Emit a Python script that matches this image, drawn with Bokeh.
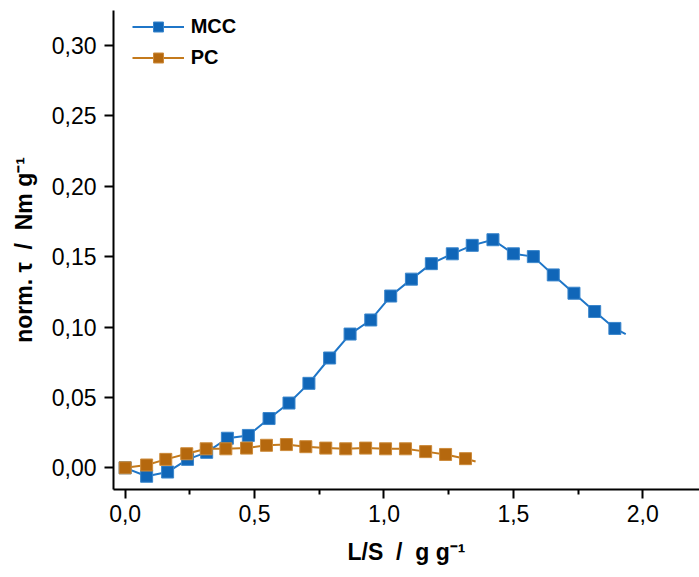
from bokeh.plotting import figure
from bokeh.models import Range1d, FixedTicker, Legend, LegendItem
from bokeh.embed import file_html
from bokeh.resources import INLINE

# Liquid-to-solid ratio (g/g) and normalised torque (Nm/g)
mcc_ls = [0.0, 0.083, 0.164, 0.241, 0.315, 0.395, 0.476, 0.556, 0.633, 0.710,
          0.790, 0.869, 0.949, 1.026, 1.106, 1.183, 1.264, 1.341, 1.421, 1.500,
          1.577, 1.654, 1.734, 1.814, 1.892]
mcc_tau = [0.000, -0.006, -0.003, 0.006, 0.011, 0.021, 0.023, 0.035, 0.046, 0.060,
           0.078, 0.095, 0.105, 0.122, 0.134, 0.145, 0.152, 0.158, 0.162, 0.152,
           0.150, 0.137, 0.124, 0.111, 0.099]
mcc_curve_end = (1.934, 0.095)

pc_ls = [0.0, 0.083, 0.157, 0.238, 0.313, 0.389, 0.469, 0.546, 0.623, 0.698,
         0.775, 0.852, 0.929, 1.006, 1.083, 1.161, 1.238, 1.315]
pc_tau = [0.000, 0.002, 0.006, 0.010, 0.0135, 0.0135, 0.014, 0.016, 0.0165, 0.015,
          0.014, 0.0135, 0.014, 0.0135, 0.0135, 0.0115, 0.0095, 0.0065]
pc_curve_end = (1.354, 0.0045)

x_ticks = [0.0, 0.5, 1.0, 1.5, 2.0]
x_minor = [0.25, 0.75, 1.25, 1.75, 2.25]
y_ticks = [0.00, 0.05, 0.10, 0.15, 0.20, 0.25, 0.30]

MCC_COLOR = "#1066b8"
MCC_LINE = "#1f76c8"
PC_COLOR = "#b5680e"
PC_LINE = "#c47a1c"

NB = "\u00a0"  # keeps the wide gaps around the slash in the axis titles

p = figure(width=699, height=577, output_backend="svg", toolbar_location=None,
           x_range=Range1d(-0.045, 2.219), y_range=Range1d(-0.0154, 0.3248),
           min_border_left=113, min_border_right=0, min_border_top=10,
           min_border_bottom=88)
p.outline_line_color = None
p.grid.visible = False
p.background_fill_color = "white"
p.border_fill_color = "white"

font = "Liberation Sans"

for ax in (p.xaxis[0], p.yaxis[0]):
    ax.axis_line_width = 2
    ax.axis_line_color = "black"
    ax.major_tick_line_width = 2
    ax.minor_tick_line_width = 2
    ax.major_tick_in = 0
    ax.major_tick_out = 9
    ax.minor_tick_in = 0
    ax.minor_tick_out = 5
    ax.major_label_text_font = font
    ax.major_label_text_font_size = "23px"
    ax.major_label_text_color = "black"
    ax.axis_label_text_font = font
    ax.axis_label_text_font_style = "bold"
    ax.axis_label_text_font_size = "23px"
    ax.axis_label_text_color = "black"

p.xaxis.ticker = FixedTicker(ticks=x_ticks, minor_ticks=x_minor)
p.xaxis.major_label_overrides = {t: f"{t:.1f}".replace(".", ",") for t in x_ticks}
p.xaxis.major_label_standoff = 6
p.xaxis.axis_label = f"L/S{NB}{NB}/{NB}{NB}g g⁻¹"
p.xaxis.axis_label_standoff = 14

p.yaxis.ticker = FixedTicker(ticks=y_ticks, minor_ticks=[])
p.yaxis.major_label_overrides = {t: f"{t:.2f}".replace(".", ",") for t in y_ticks}
p.yaxis.major_label_standoff = 8
p.yaxis.axis_label = f"norm. τ{NB}{NB}/{NB}{NB}Nm g⁻¹"
p.yaxis.axis_label_standoff = 12

mcc_line = p.line(mcc_ls + [mcc_curve_end[0]], mcc_tau + [mcc_curve_end[1]],
                  line_color=MCC_LINE, line_width=2)
mcc_pts = p.scatter(mcc_ls, mcc_tau, marker="square", size=12,
                    fill_color=MCC_COLOR, line_color="#3a86cc", line_width=1)

pc_line = p.line(pc_ls + [pc_curve_end[0]], pc_tau + [pc_curve_end[1]],
                 line_color=PC_LINE, line_width=2)
pc_pts = p.scatter(pc_ls, pc_tau, marker="square", size=12,
                   fill_color=PC_COLOR, line_color="#cc8a3a", line_width=1)

legend = Legend(items=[LegendItem(label="MCC", renderers=[mcc_line, mcc_pts]),
                       LegendItem(label="PC", renderers=[pc_line, pc_pts])],
                location=(18.7, 419.2), padding=0, margin=0, spacing=6,
                glyph_width=52, glyph_height=25, label_standoff=7,
                label_text_font=font, label_text_font_style="bold",
                label_text_font_size="20px", label_text_color="black",
                border_line_color=None, background_fill_alpha=0)
p.add_layout(legend)

open("out.html", "w").write(file_html(p, INLINE))
